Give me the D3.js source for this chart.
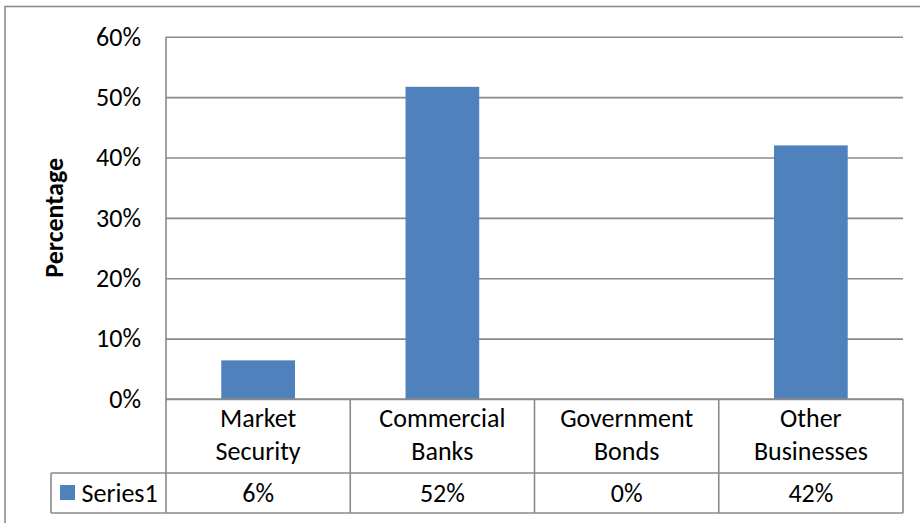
<!DOCTYPE html>
<html>
<head>
<meta charset="utf-8">
<script src="https://cdn.jsdelivr.net/npm/d3@7"></script>
<style>
  html, body { margin: 0; padding: 0; background: #fff; }
  svg { display: block; }
  text { font-family: Carlito, Lato, "Liberation Sans", sans-serif; fill: #000; }
</style>
</head>
<body>
<svg id="chart" width="920" height="523"></svg>
<script>
// Share of funds by destination
const categories = ["Market Security", "Commercial Banks", "Government Bonds", "Other Businesses"];
const seriesName = "Series1";
const values = [0.064, 0.517, 0.0, 0.42];
const yTicks = [0, 0.1, 0.2, 0.3, 0.4, 0.5, 0.6];
const yTitle = "Percentage";

const W = 920, H = 523;
const FONT = 26;
const plot = { left: 166, right: 903, top: 36.7, bottom: 399 };
const table = { row1: 473, row2: 513, legendLeft: 51 };
const gridColor = "#8a8a8a";
const barColor = "#4f81bd";

const svg = d3.select("#chart");
const pct = d3.format(".0%");

// outer chart frame (runs past the right and bottom edges of the canvas)
svg.append("rect")
  .attr("x", 5).attr("y", 6.5)
  .attr("width", W + 10).attr("height", H + 10)
  .attr("fill", "#fff")
  .attr("stroke", "#8c8c8c").attr("stroke-width", 1.6);

const x = d3.scaleBand()
  .domain(categories)
  .range([plot.left, plot.right])
  .paddingInner(0.6)
  .paddingOuter(0.3);

// cell boundaries of the data table share the category step
const cell = d3.scaleBand()
  .domain(categories)
  .range([plot.left, plot.right])
  .padding(0);

const y = d3.scaleLinear().domain([0, 0.6]).range([plot.bottom, plot.top]);

// gridlines and percentage tick labels
const yAxis = svg.append("g")
  .attr("transform", `translate(${plot.left},0)`)
  .call(d3.axisLeft(y)
    .tickValues(yTicks)
    .tickFormat(pct)
    .tickSize(-(plot.right - plot.left))
    .tickPadding(25));
yAxis.select(".domain").remove();
yAxis.selectAll(".tick line").attr("stroke", gridColor).attr("stroke-width", 1.6);
yAxis.selectAll(".tick text")
  .attr("font-size", FONT)
  .attr("font-family", "Carlito, Lato, sans-serif")
  .attr("fill", "#000");

// axis title
svg.append("text")
  .attr("transform", `translate(63,${(plot.top + plot.bottom) / 2}) rotate(-90)`)
  .attr("text-anchor", "middle")
  .attr("font-size", FONT)
  .attr("font-weight", "bold")
  .text(yTitle);

// columns
svg.append("g").selectAll("rect")
  .data(values)
  .join("rect")
  .attr("x", (d, i) => x(categories[i]))
  .attr("width", x.bandwidth())
  .attr("y", d => y(d))
  .attr("height", d => y(0) - y(d))
  .attr("fill", barColor);

// data table grid
const grid = svg.append("g")
  .attr("stroke", gridColor)
  .attr("stroke-width", 1.6)
  .attr("fill", "none");
// vertical axis line continues down through the table
grid.append("line")
  .attr("x1", plot.left).attr("x2", plot.left)
  .attr("y1", plot.top).attr("y2", table.row2);
grid.selectAll("line.v")
  .data(categories)
  .join("line")
  .attr("class", "v")
  .attr("x1", d => cell(d) + cell.bandwidth())
  .attr("x2", d => cell(d) + cell.bandwidth())
  .attr("y1", plot.bottom).attr("y2", table.row2);
grid.append("line")
  .attr("x1", plot.left).attr("x2", plot.right)
  .attr("y1", plot.bottom).attr("y2", plot.bottom);
grid.append("line")
  .attr("x1", table.legendLeft).attr("x2", plot.right)
  .attr("y1", table.row1).attr("y2", table.row1);
grid.append("line")
  .attr("x1", table.legendLeft).attr("x2", plot.right)
  .attr("y1", table.row2).attr("y2", table.row2);
grid.append("line")
  .attr("x1", table.legendLeft).attr("x2", table.legendLeft)
  .attr("y1", table.row1).attr("y2", table.row2);

// category names, two lines per cell
const catText = svg.append("g").selectAll("text")
  .data(categories)
  .join("text")
  .attr("text-anchor", "middle")
  .attr("font-size", FONT)
  .attr("x", d => cell(d) + cell.bandwidth() / 2)
  .attr("y", 426.5);
catText.selectAll("tspan")
  .data(d => d.split(" "))
  .join("tspan")
  .attr("x", function () { return d3.select(this.parentNode).attr("x"); })
  .attr("dy", (d, i) => i === 0 ? 0 : 33)
  .text(d => d);

// value row
svg.append("g").selectAll("text")
  .data(values)
  .join("text")
  .attr("text-anchor", "middle")
  .attr("font-size", FONT)
  .attr("x", (d, i) => cell(categories[i]) + cell.bandwidth() / 2)
  .attr("y", 501.5)
  .text(d => pct(d));

// legend key in the table
svg.append("rect")
  .attr("x", 60).attr("y", 485)
  .attr("width", 15).attr("height", 15)
  .attr("fill", barColor);
svg.append("text")
  .attr("x", 81.5).attr("y", 501.5)
  .attr("font-size", FONT)
  .text(seriesName);
</script>
</body>
</html>
